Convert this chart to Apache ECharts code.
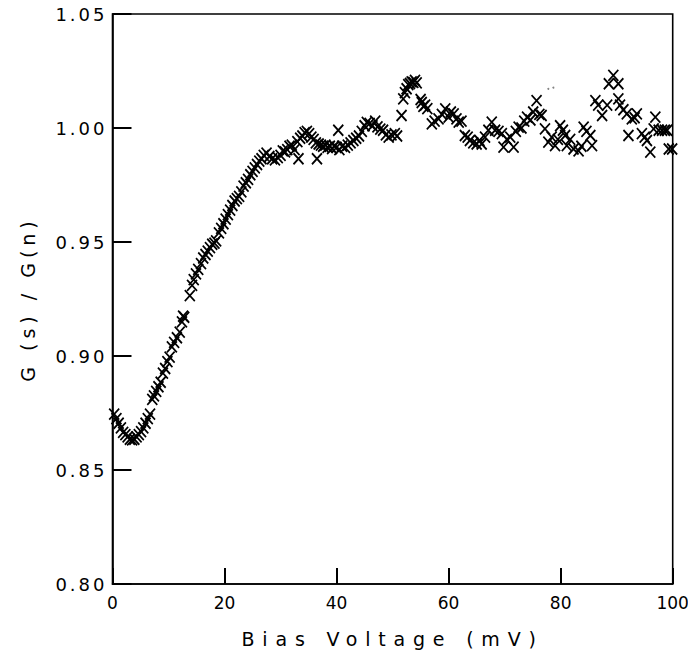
<!DOCTYPE html>
<html>
<head>
<meta charset="utf-8">
<script src="https://cdn.jsdelivr.net/npm/echarts@6/dist/echarts.min.js"></script>
<style>
html,body{margin:0;padding:0;background:#fff;}
#chart{width:688px;height:665px;background:#fff;}
</style>
</head>
<body>
<div id="chart"></div>
<script>
// Bias voltage (mV) and conductance ratio G(s)/G(n)
const biasVoltage = [
0.3,0.7,1.1,1.5,1.9,2.3,2.7,3.1,3.5,3.9,4.3,4.7,5.1,5.5,5.9,6.3,6.7,
7.1,7.4,7.8,8.2,8.6,9.0,9.4,9.8,10.2,10.6,11.0,11.5,12.0,12.4,12.6,12.8,
13.8,14.2,14.5,14.9,15.3,15.8,16.2,16.6,17.0,17.4,17.8,18.2,18.5,19.0,19.4,19.8,
20.2,20.6,21.0,21.4,21.8,22.2,22.6,23.0,23.4,23.8,24.2,24.6,25.0,25.4,25.8,26.2,
26.6,27.0,27.5,28.0,28.5,29.0,29.5,30.0,30.4,30.8,31.2,31.6,32.0,32.5,33.2,33.0,
33.5,33.9,34.3,34.7,35.1,35.5,35.9,36.3,36.5,36.8,37.2,37.6,38.0,38.4,38.8,39.2,
39.6,40.0,40.3,40.5,41.0,41.5,42.0,42.5,43.0,43.5,44.0,44.5,45.0,45.4,45.9,46.4,
46.9,47.3,47.8,48.3,48.8,49.3,49.8,50.4,50.8,51.6,51.9,52.2,52.5,52.8,53.1,53.4,
53.7,54.0,54.3,55.0,55.2,55.5,55.8,56.2,57.0,57.5,58.2,58.8,59.4,60.0,60.4,60.9,
61.4,61.8,62.3,62.9,63.4,63.8,64.4,65.0,65.5,65.9,66.5,67.1,67.7,68.3,68.9,69.5,
69.8,70.4,71.0,71.6,72.0,72.5,73.0,73.5,74.0,74.6,75.1,75.7,76.2,76.6,77.2,77.8,
78.4,79.0,79.5,79.9,80.4,80.8,81.1,81.7,82.3,83.2,83.7,84.1,84.6,85.3,85.6,86.2,
86.7,87.4,88.3,88.6,89.4,90.3,90.3,90.6,91.2,91.8,92.1,92.7,93.2,93.6,94.5,95.0,
95.4,96.0,96.6,96.9,97.5,98.1,98.6,99.0,99.3,99.9
];
const conductanceRatio = [
0.8745,0.8725,0.8705,0.8685,0.8665,0.8655,0.8645,0.8635,0.8632,0.8635,0.8645,0.8655,0.8668,0.8685,0.8705,0.8725,0.8745,
0.8810,0.8825,0.8845,0.8865,0.8885,0.8925,0.8945,0.8975,0.8995,0.9040,0.9060,0.9080,0.9105,0.9150,0.9175,0.9170,
0.9265,0.9310,0.9335,0.9360,0.9380,0.9405,0.9430,0.9445,0.9460,0.9475,0.9490,0.9495,0.9505,0.9540,0.9560,0.9580,
0.9600,0.9620,0.9640,0.9660,0.9680,0.9690,0.9700,0.9720,0.9745,0.9760,0.9775,0.9795,0.9810,0.9825,0.9840,0.9855,
0.9865,0.9880,0.9890,0.9875,0.9865,0.9860,0.9870,0.9880,0.9900,0.9895,0.9905,0.9920,0.9925,0.9905,0.9865,0.9940,
0.9955,0.9965,0.9980,0.9985,0.9975,0.9960,0.9950,0.9935,0.9865,0.9930,0.9925,0.9920,0.9925,0.9915,0.9920,0.9910,
0.9920,0.9915,0.9990,0.9905,0.9920,0.9915,0.9925,0.9935,0.9945,0.9955,0.9965,0.9985,1.0010,1.0025,1.0020,1.0010,
1.0030,1.0005,0.9995,0.9990,0.9970,0.9960,0.9970,0.9975,0.9965,1.0055,1.0128,1.0155,1.0172,1.0190,1.0195,1.0202,
1.0200,1.0209,1.0198,1.0125,1.0112,1.0095,1.0100,1.0085,1.0018,1.0030,1.0040,1.0060,1.0084,1.0048,1.0070,1.0062,
1.0040,1.0026,1.0030,0.9967,0.9960,0.9945,0.9935,0.9930,0.9945,0.9930,0.9960,0.9990,1.0026,0.9990,0.9985,0.9975,
0.9916,0.9950,0.9960,0.9916,0.9985,1.0004,1.0000,1.0030,1.0048,1.0035,1.0070,1.0120,1.0060,1.0055,0.9996,0.9938,
0.9960,0.9923,0.9950,1.0010,0.9990,0.9967,0.9923,0.9950,0.9908,0.9900,0.9920,1.0004,0.9985,0.9967,0.9923,1.0120,
1.0100,1.0055,1.0100,1.0194,1.0231,1.0194,1.0128,1.0100,1.0080,1.0062,0.9967,1.0040,1.0045,1.0062,0.9975,0.9960,
0.9945,0.9894,0.9996,1.0048,0.9990,0.9990,0.9990,0.9990,0.9908,0.9908
];
// faint partial marks near 78 mV
const faintVoltage = [77.8, 78.7];
const faintRatio = [1.0172, 1.0177];

const yTicks = ['0.80','0.85','0.90','0.95','1.00','1.05'];

const pts = biasVoltage.map((v, i) => [v, conductanceRatio[i]]);
const faint = faintVoltage.map((v, i) => [v, faintRatio[i]]);

const FONT = 'DejaVu Sans';
const chart = echarts.init(document.getElementById('chart'), null, {renderer: 'svg'});
chart.setOption({
  animation: false,
  grid: {left: 112.5, right: 15.3, top: 14, bottom: 81, containLabel: false, outerBoundsMode: 'none',
    show: true, borderColor: '#000', borderWidth: 1.6, backgroundColor: 'transparent'},
  xAxis: [
    {type: 'value', min: 0, max: 100, interval: 20, position: 'bottom',
      name: 'Bias Voltage (mV)', nameLocation: 'middle', nameGap: 45,
      nameTextStyle: {color: '#000', fontSize: 19, fontFamily: FONT},
      axisLine: {show: true, lineStyle: {color: '#000', width: 1.6}},
      axisTick: {show: false},
      axisLabel: {color: '#000', fontSize: 17, fontFamily: FONT, margin: 10, showMinLabel: true, showMaxLabel: true, hideOverlap: false},
      splitLine: {show: false}},
    // tick-only companion axis, ticks pointing into the plot
    {type: 'value', min: 0, max: 100, interval: 20, position: 'bottom', offset: 0,
      axisLine: {show: false}, axisLabel: {show: false}, splitLine: {show: false},
      axisTick: {show: true, inside: true, length: 16, lineStyle: {color: '#000', width: 2}}}
  ],
  yAxis: [
    {type: 'value', min: 0.8, max: 1.05, interval: 0.05, position: 'left',
      name: 'G (s) / G(n)', nameLocation: 'middle', nameGap: 75, nameRotate: 90,
      nameTextStyle: {color: '#000', fontSize: 19, fontFamily: FONT},
      axisLine: {show: true, lineStyle: {color: '#000', width: 1.6}},
      axisTick: {show: false},
      axisLabel: {color: '#000', fontSize: 18, fontFamily: FONT, margin: 5, showMinLabel: true, showMaxLabel: true, hideOverlap: false,
        formatter: v => yTicks[Math.round((v - 0.8) / 0.05)] || v.toFixed(2)},
      splitLine: {show: false}},
    {type: 'value', min: 0.8, max: 1.05, interval: 0.05, position: 'left', offset: 0,
      axisLine: {show: false}, axisLabel: {show: false}, splitLine: {show: false},
      axisTick: {show: true, inside: true, length: 19, lineStyle: {color: '#000', width: 2}}}
  ],
  series: [
    {type: 'scatter', data: pts, xAxisIndex: 0, yAxisIndex: 0,
      symbol: 'path://M0,0L10,11M10,0L0,11', symbolSize: [10, 11],
      itemStyle: {color: 'rgba(0,0,0,0)', borderColor: '#000', borderWidth: 1.8, opacity: 1}},
    {type: 'scatter', data: faint, xAxisIndex: 0, yAxisIndex: 0, symbol: 'circle', symbolSize: 2,
      itemStyle: {color: '#666'}}
  ]
});

function spaceText() {
  document.querySelectorAll('#chart text').forEach(t => {
    const s = t.textContent;
    let ls = 0;
    if (s === 'Bias Voltage (mV)') ls = 7.8;
    else if (s === 'G (s) / G(n)') ls = 5;
    else if (/^\d\.\d\d$/.test(s)) ls = 3;
    if (ls) t.style.letterSpacing = ls + 'px';
  });
}
setTimeout(spaceText, 30);
</script>
</body>
</html>
